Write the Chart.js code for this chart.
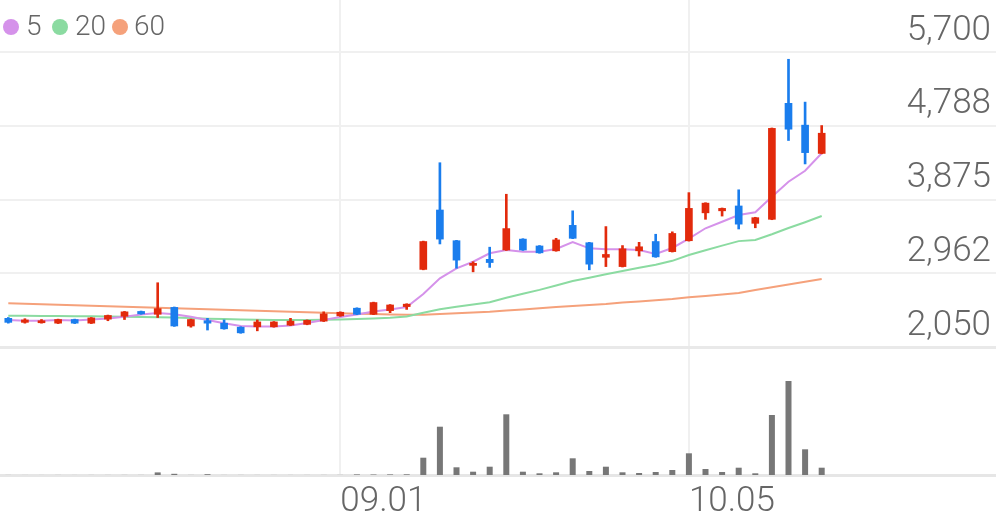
<!DOCTYPE html>
<html>
<head>
<meta charset="utf-8">
<script src="https://cdn.jsdelivr.net/npm/chart.js@4.4.1/dist/chart.umd.min.js"></script>
<style>
  html, body { margin: 0; padding: 0; background: #fff; }
  #wrap { position: relative; width: 996px; height: 519px; }
  #legend { position: absolute; left: 0; top: 0; font-family: Roboto, sans-serif; font-weight: 300; font-size: 28px; line-height: 28px; color: #666; }
  #legend .dot { position: absolute; top: 19px; width: 16px; height: 16px; border-radius: 50%; }
  #legend .txt { position: absolute; top: 12px; white-space: nowrap; }
</style>
</head>
<body>
<div id="wrap">
  <canvas id="chart" width="996" height="519"></canvas>
  <div id="legend"></div>
</div>
<script>
// trading days (2020), plus the empty slots still shown on the right
const dates = ['08.03','08.04','08.05','08.06','08.07','08.10','08.11','08.12','08.13','08.14',
  '08.18','08.19','08.20','08.21','08.24','08.25','08.26','08.27','08.28','08.31',
  '09.01','09.02','09.03','09.04','09.07','09.08','09.09','09.10','09.11','09.14',
  '09.15','09.16','09.17','09.18','09.21','09.22','09.23','09.24','09.25','09.28',
  '09.29','10.05','10.06','10.07','10.08','10.12','10.13','10.14','10.15','10.16'];
const futureDates = ['10.19','10.20','10.21','10.22','10.23','10.26','10.27','10.28','10.29','10.30'];

const opens  = [2405,2355,2350,2345,2390,2345,2395,2430,2490,2455, 2540,2310,2375,2345,2295,2300,2300,2320,2330,2370,
                2435,2530,2455,2500,2550,3010,3745,3365,3060,3135, 3250,3385,3300,3240,3555,3340,3160,3045,3240,3355,
                3230,3365,3710,3735,3795,3580,3630,5065,4795,4445];
const highs  = [2415,2400,2390,2395,2395,2415,2445,2490,2495,2845, 2545,2395,2405,2385,2300,2385,2365,2405,2385,2485,
                2485,2535,2605,2575,2585,3360,4330,3370,3105,3285, 3940,3390,3305,3395,3735,3345,3540,3305,3345,3445,
                3475,3960,3835,3770,3995,3655,4760,5610,5080,4790];
const lows   = [2345,2345,2345,2340,2340,2340,2375,2390,2455,2415, 2305,2295,2260,2270,2220,2250,2295,2315,2325,2365,
                2430,2450,2450,2475,2515,3005,3325,3025,2980,3035, 3245,3245,3210,3235,3390,3005,3045,3040,3175,3160,
                3225,3360,3630,3670,3510,3525,3625,4605,4315,4440];
const closes = [2355,2385,2375,2390,2345,2410,2440,2485,2460,2525, 2310,2390,2345,2275,2225,2360,2360,2370,2380,2460,
                2480,2455,2600,2570,2580,3355,3385,3125,3085,3095, 3515,3250,3215,3375,3395,3075,3195,3265,3290,3165,
                3455,3765,3830,3765,3570,3650,4755,4745,4455,4695];
const volumes = [3000,2000,2000,3000,2000,3000,3000,4000,4000,130000, 60000,4000,40000,3000,4000,3000,3000,3000,3000,4000,
                 5000,30000,25000,30000,35000,865000,2415000,385000,165000,415000, 3035000,165000,85000,135000,835000,200000,415000,135000,100000,150000,
                 250000,1085000,300000,150000,365000,85000,3000000,4700000,1285000,365000];

// moving averages as drawn on the reference
const ma5  = [2384,2375,2375,2384,2378,2390,2403,2425,2452,2470, 2455,2425,2384,2343,2310,2304,2304,2316,2347,2384,
              2421,2452,2489,2514,2545,2706,2900,3024,3105,3209, 3250,3229,3229,3263,3349,3271,3259,3259,3250,3200,
              3275,3392,3519,3600,3683,3717,3910,4095,4231,4447];
const ma20 = [2437,2436,2435,2434,2431,2429,2426,2424,2421,2419, 2415,2409,2401,2395,2390,2388,2385,2384,2384,2387,
              2390,2396,2403,2413,2428,2475,2516,2547,2575,2604, 2660,2710,2757,2811,2867,2908,2950,2991,3030,3068,
              3116,3188,3246,3304,3360,3374,3445,3522,3594,3671];
const ma60 = [2591,2585,2578,2572,2566,2560,2554,2547,2541,2535, 2529,2523,2516,2510,2504,2498,2492,2486,2479,2473,
              2467,2462,2457,2452,2448,2450,2458,2467,2477,2487, 2502,2514,2529,2545,2557,2570,2582,2601,2613,2628,
              2644,2665,2681,2700,2718,2755,2788,2822,2856,2891];

const priceTicks = [2050, 2962, 3875, 4788, 5700];
const maNames = ['5', '20', '60'];
const maColors = ['#d592ea', '#8bdba1', '#f5a17b'];

// --- layout of the reference (pixels) ---
const PLOT_H = 475;       // chart area bottom
const GRID_TOP = 52;      // y of the 5,700 line
const GRID_BOT = 347;     // y of the 2,050 line
const perPx = (priceTicks[priceTicks.length - 1] - priceTicks[0]) / (GRID_BOT - GRID_TOP);
const priceMax = priceTicks[priceTicks.length - 1] + GRID_TOP * perPx;
const priceMin = priceTicks[0] - (PLOT_H - GRID_BOT) * perPx;
const volMax = 23750000;

const UP = '#e22a0c';
const DOWN = '#1a7ded';
const FONT = 'Roboto';
const TEXT = '#666';

const labels = dates.concat(futureDates);
const candleColors = opens.map((o, i) => closes[i] >= o ? UP : DOWN);

function isMonthStart(i) {
  return i > 0 && labels[i] && labels[i].slice(0, 2) !== labels[i - 1].slice(0, 2);
}

// legend
const legend = document.getElementById('legend');
const legendX = [[3, 26], [52, 75], [112, 134]];
maNames.forEach((name, i) => {
  const dot = document.createElement('span');
  dot.className = 'dot';
  dot.style.left = legendX[i][0] + 'px';
  dot.style.background = maColors[i];
  legend.appendChild(dot);
  const txt = document.createElement('span');
  txt.className = 'txt';
  txt.style.left = legendX[i][1] + 'px';
  txt.textContent = name;
  legend.appendChild(txt);
});

const lineSet = (data, color) => ({
  type: 'line',
  data: data,
  borderColor: color,
  borderWidth: 2,
  pointRadius: 0,
  tension: 0,
  yAxisID: 'y',
  order: 2
});

new Chart(document.getElementById('chart'), {
  data: {
    labels: labels,
    datasets: [
      {
        type: 'bar',
        data: opens.map((o, i) => [o, closes[i]]),
        backgroundColor: candleColors,
        barThickness: 7,
        grouped: false,
        yAxisID: 'y',
        order: 0
      },
      {
        type: 'bar',
        data: lows.map((l, i) => [l, highs[i]]),
        backgroundColor: candleColors,
        barThickness: 2,
        grouped: false,
        yAxisID: 'y',
        order: 1
      },
      lineSet(ma5, maColors[0]),
      lineSet(ma20, maColors[1]),
      lineSet(ma60, maColors[2]),
      {
        type: 'bar',
        data: volumes,
        backgroundColor: '#777777',
        barThickness: 6,
        inflateAmount: 0,
        grouped: false,
        yAxisID: 'vol',
        order: 5
      }
    ]
  },
  options: {
    responsive: false,
    animation: false,
    events: [],
    layout: { padding: 0 },
    plugins: { legend: { display: false }, tooltip: { enabled: false } },
    scales: {
      x: {
        offset: true,
        grid: { offset: false, color: '#f0f0f0', lineWidth: 2, drawTicks: false },
        border: { display: true, color: '#e6e6e6', width: 3 },
        ticks: {
          autoSkip: false,
          maxRotation: 0,
          align: 'start',
          padding: 6,
          color: TEXT,
          font: { family: FONT, size: 35, weight: '300' },
          callback: (v, i) => isMonthStart(i) ? labels[i] : null
        },
        afterFit: (s) => { s.height = 519 - PLOT_H; s.paddingLeft = 0; s.paddingRight = 0; }
      },
      y: {
        position: 'right',
        min: priceMin,
        max: priceMax,
        afterBuildTicks: (s) => { s.ticks = priceTicks.map(v => ({ value: v })); },
        grid: {
          drawTicks: false,
          color: (c) => c.tick && c.tick.value === priceTicks[0] ? '#e9e9e9' : '#f0f0f0',
          lineWidth: (c) => c.tick && c.tick.value === priceTicks[0] ? 3 : 2
        },
        border: { display: false },
        ticks: {
          mirror: true,
          autoSkip: false,
          padding: -5,
          labelOffset: -21,
          color: TEXT,
          font: { family: FONT, size: 35, weight: '300' },
          callback: (v) => Number(v).toLocaleString('en-US')
        },
        afterFit: (s) => { s.width = 0; s.paddingTop = 0; s.paddingBottom = 0; }
      },
      vol: { display: false, min: 0, max: volMax }
    }
  }
});
</script>
</body>
</html>
